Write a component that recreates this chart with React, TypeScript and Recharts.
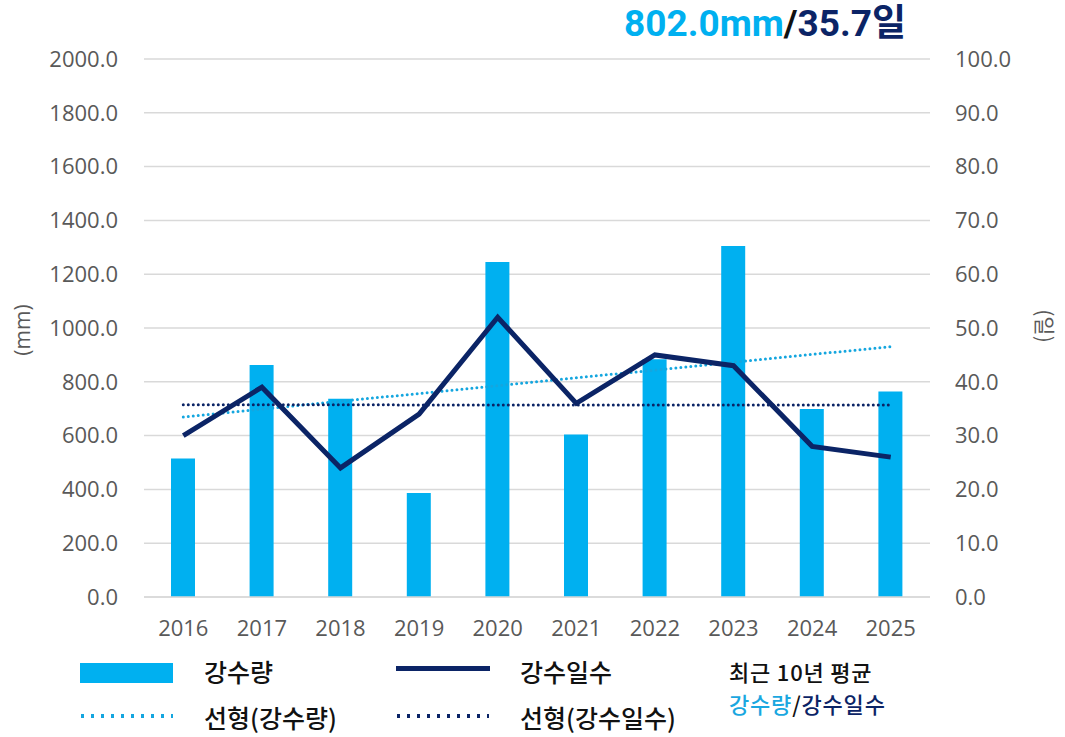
import { ComposedChart, Bar, Line, XAxis, YAxis, CartesianGrid } from "recharts";

// 최근 10년 강수량 / 강수일수
const years = ["2016", "2017", "2018", "2019", "2020", "2021", "2022", "2023", "2024", "2025"];
const rainfall = [515, 862, 737, 387, 1245, 604, 884, 1305, 699, 764];
const rainDays = [30, 39, 24, 34, 52, 36, 45, 43, 28, 26];
const leftTicks = [0, 200, 400, 600, 800, 1000, 1200, 1400, 1600, 1800, 2000];
const rightTicks = [0, 10, 20, 30, 40, 50, 60, 70, 80, 90, 100];

const SKY = "#00B0F0";
const NAVY = "#0B2466";
const TREND_SKY = "#14A6DF";
const TICK_GREY = "#595959";
const KR_FONT = "'Noto Sans CJK KR', 'Noto Sans', sans-serif";
const TICK_FONT = "'Open Sans', sans-serif";

// least-squares trend (same as Excel's 선형 추세선)
function linearTrend(values: number[]) {
    const n = values.length;
    const mx = (n - 1) / 2;
    const my = values.reduce((a, b) => a + b, 0) / n;
    let sxy = 0;
    let sxx = 0;
    values.forEach((v, i) => {
        sxy += (i - mx) * (v - my);
        sxx += (i - mx) * (i - mx);
    });
    const slope = sxy / sxx;
    return values.map((_, i) => my + slope * (i - mx));
}

const rainTrend = linearTrend(rainfall);
const daysTrend = linearTrend(rainDays);

const data = years.map((year, i) => ({
    year,
    rainfall: rainfall[i],
    rainDays: rainDays[i],
    rainTrend: rainTrend[i],
    daysTrend: daysTrend[i],
}));

const legendText = {
    fontFamily: KR_FONT,
    fontSize: 25,
    fontWeight: 500,
    color: "#111",
    lineHeight: "26px",
    whiteSpace: "nowrap" as const,
};

// the two-line average note sits tighter, so a slightly smaller size
const noteText = { ...legendText, fontSize: 22, lineHeight: "24px" };

const tickStyle = { fill: TICK_GREY, fontSize: 22, fontFamily: TICK_FONT };

export default function App() {
    return (
        <div style={{ position: "absolute", left: 0, top: 0, width: 1065, height: 737, background: "#fff" }}>
            <ComposedChart
                width={1065}
                height={737}
                data={data}
                margin={{ top: 59, right: 0, left: 0, bottom: 110 }}
            >
                <CartesianGrid vertical={false} stroke="#d9d9d9" strokeWidth={1.5} yAxisId="left" />
                <XAxis
                    dataKey="year"
                    height={30}
                    axisLine={{ stroke: "#d9d9d9", strokeWidth: 1.5 }}
                    tickLine={false}
                    tickMargin={17}
                    tick={tickStyle}
                />
                <YAxis
                    yAxisId="left"
                    orientation="left"
                    width={144}
                    domain={[0, 2000]}
                    ticks={leftTicks}
                    tickFormatter={(v: number) => v.toFixed(1)}
                    axisLine={false}
                    tickLine={false}
                    tickSize={0}
                    tickMargin={26}
                    tick={tickStyle}
                />
                <YAxis
                    yAxisId="right"
                    orientation="right"
                    width={135}
                    domain={[0, 100]}
                    ticks={rightTicks}
                    tickFormatter={(v: number) => v.toFixed(1)}
                    axisLine={false}
                    tickLine={false}
                    tickSize={0}
                    tickMargin={25}
                    tick={{ ...tickStyle, textAnchor: "start" }}
                />
                <Bar yAxisId="left" dataKey="rainfall" fill={SKY} barSize={24} isAnimationActive={false} />
                <Line
                    yAxisId="left"
                    dataKey="rainTrend"
                    stroke={TREND_SKY}
                    strokeWidth={3}
                    strokeDasharray="0 5"
                    strokeLinecap="round"
                    dot={false}
                    activeDot={false}
                    isAnimationActive={false}
                />
                <Line
                    yAxisId="right"
                    dataKey="daysTrend"
                    stroke={NAVY}
                    strokeWidth={3}
                    strokeDasharray="0 5"
                    strokeLinecap="round"
                    dot={false}
                    activeDot={false}
                    isAnimationActive={false}
                />
                <Line
                    yAxisId="right"
                    dataKey="rainDays"
                    type="linear"
                    stroke={NAVY}
                    strokeWidth={5}
                    dot={false}
                    activeDot={false}
                    isAnimationActive={false}
                />
            </ComposedChart>

            {/* axis titles */}
            <div style={{ position: "absolute", left: 22, top: 330, transform: "translate(-50%, -50%) rotate(-90deg)", fontFamily: TICK_FONT, fontSize: 21, color: TICK_GREY, whiteSpace: "nowrap" }}>
                (mm)
            </div>
            <div style={{ position: "absolute", left: 1046, top: 326, transform: "translate(-50%, -50%) rotate(90deg)", fontFamily: KR_FONT, fontSize: 21, color: TICK_GREY, whiteSpace: "nowrap" }}>
                (일)
            </div>

            {/* average headline */}
            <div style={{ position: "absolute", left: 624, top: 0, fontFamily: "Roboto, " + KR_FONT, fontSize: 37, lineHeight: "48px", fontWeight: 700, whiteSpace: "nowrap" }}>
                <span style={{ color: SKY }}>802.0mm</span>
                <span style={{ color: "#111" }}>/</span>
                <span style={{ color: NAVY }}>35.7일</span>
            </div>

            {/* legend */}
            <div style={{ position: "absolute", left: 80, top: 663, width: 93, height: 20, background: SKY }} />
            <div style={{ position: "absolute", left: 204, top: 658, ...legendText }}>강수량</div>
            <div style={{ position: "absolute", left: 396, top: 666, width: 94, height: 5, background: NAVY }} />
            <div style={{ position: "absolute", left: 520, top: 658, ...legendText }}>강수일수</div>

            <svg style={{ position: "absolute", left: 78, top: 710 }} width={100} height={12}>
                <line x1={3} y1={6} x2={95} y2={6} stroke={TREND_SKY} strokeWidth={4} strokeDasharray="3 7" />
            </svg>
            <div style={{ position: "absolute", left: 204, top: 704, ...legendText }}>선형(강수량)</div>
            <svg style={{ position: "absolute", left: 394, top: 710 }} width={100} height={12}>
                <line x1={3} y1={6} x2={95} y2={6} stroke={NAVY} strokeWidth={4} strokeDasharray="3 7" />
            </svg>
            <div style={{ position: "absolute", left: 520, top: 704, ...legendText }}>선형(강수일수)</div>

            <div style={{ position: "absolute", left: 729, top: 659, ...noteText, letterSpacing: 0.8 }}>최근 10년 평균</div>
            <div style={{ position: "absolute", left: 729, top: 691, ...noteText, letterSpacing: 0.8 }}>
                <span style={{ color: "#1AA7E0" }}>강수량</span>/<span style={{ color: NAVY }}>강수일수</span>
            </div>
        </div>
    );
}
